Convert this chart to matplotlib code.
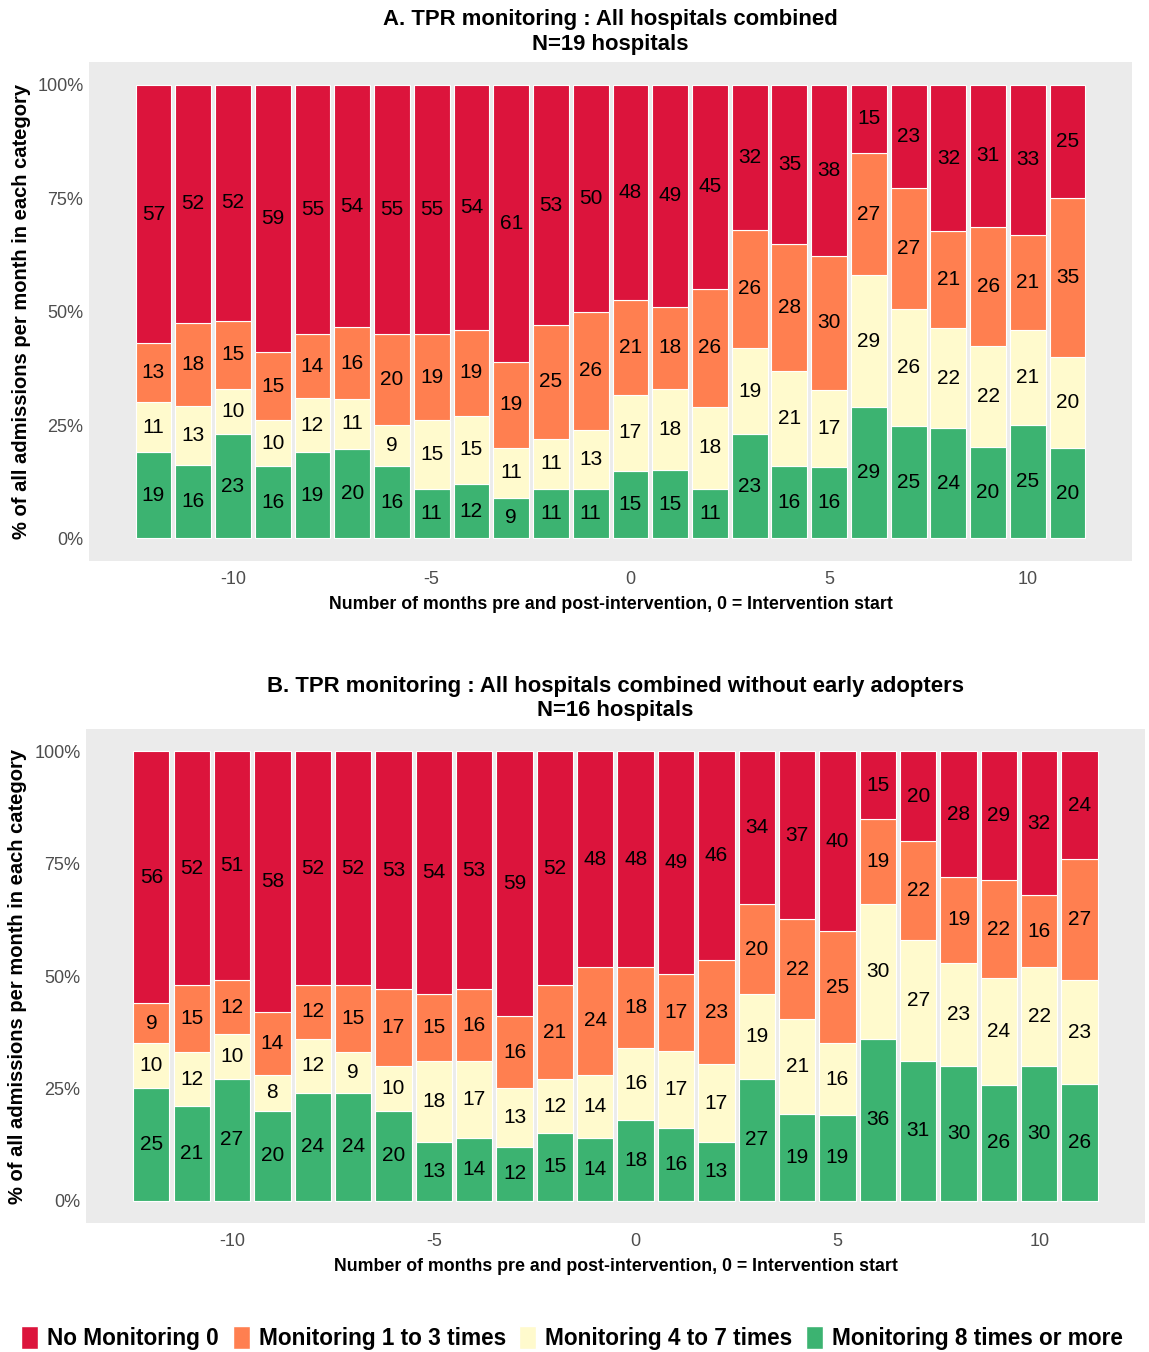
import numpy as np
import matplotlib.pyplot as plt
from matplotlib.patches import Patch

plt.rcParams["font.family"] = ["Liberation Sans", "DejaVu Sans"]
plt.rcParams["axes.unicode_minus"] = False

months = np.arange(-12, 12)

categories = [
    "Monitoring 8 times or more",
    "Monitoring 4 to 7 times",
    "Monitoring 1 to 3 times",
    "No Monitoring 0",
]
colors = ["#3CB371", "#FFFACD", "#FF7F50", "#DC143C"]

# Panel A: all hospitals (percent per month, bottom to top)
a_8plus = [19, 16, 23, 16, 19, 20, 16, 11, 12, 9, 11, 11, 15, 15, 11, 23, 16, 16, 29, 25, 24, 20, 25, 20]
a_4to7 = [11, 13, 10, 10, 12, 11, 9, 15, 15, 11, 11, 13, 17, 18, 18, 19, 21, 17, 29, 26, 22, 22, 21, 20]
a_1to3 = [13, 18, 15, 15, 14, 16, 20, 19, 19, 19, 25, 26, 21, 18, 26, 26, 28, 30, 27, 27, 21, 26, 21, 35]
a_none = [57, 52, 52, 59, 55, 54, 55, 55, 54, 61, 53, 50, 48, 49, 45, 32, 35, 38, 15, 23, 32, 31, 33, 25]

# Panel B: without early adopters
b_8plus = [25, 21, 27, 20, 24, 24, 20, 13, 14, 12, 15, 14, 18, 16, 13, 27, 19, 19, 36, 31, 30, 26, 30, 26]
b_4to7 = [10, 12, 10, 8, 12, 9, 10, 18, 17, 13, 12, 14, 16, 17, 17, 19, 21, 16, 30, 27, 23, 24, 22, 23]
b_1to3 = [9, 15, 12, 14, 12, 15, 17, 15, 16, 16, 21, 24, 18, 17, 23, 20, 22, 25, 19, 22, 19, 22, 16, 27]
b_none = [56, 52, 51, 58, 52, 52, 53, 54, 53, 59, 52, 48, 48, 49, 46, 34, 37, 40, 15, 20, 28, 29, 32, 24]

TEXT_GREY = "#4D4D4D"


def stacked_panel(ax, series, title):
    vals = np.array(series, dtype=float)
    frac = vals / vals.sum(axis=0)  # position = "fill"
    bottom = np.zeros(len(months))
    for k in range(len(series)):
        ax.bar(months, frac[k], bottom=bottom, width=0.9, color=colors[k],
               edgecolor="white", linewidth=0.8)
        for m, b, h, v in zip(months, bottom, frac[k], vals[k]):
            ax.text(m, b + h / 2, f"{int(v)}", ha="center", va="center",
                    fontsize=15, color="black")
        bottom += frac[k]

    ax.set_facecolor("#EBEBEB")
    for s in ax.spines.values():
        s.set_visible(False)
    ax.set_xlim(-13.62, 12.62)
    ax.set_ylim(-0.05, 1.05)
    ax.set_xticks([-10, -5, 0, 5, 10])
    ax.set_yticks([0, 0.25, 0.5, 0.75, 1.0])
    ax.set_yticklabels(["0%", "25%", "50%", "75%", "100%"])
    ax.tick_params(length=0, labelsize=13, labelcolor=TEXT_GREY)
    ax.tick_params(axis="x", pad=7)
    ax.tick_params(axis="y", pad=4)
    ax.set_xlabel("Number of months pre and post-intervention, 0 = Intervention start",
                  fontsize=12.8, fontweight="bold", labelpad=6)
    ax.set_ylabel("% of all admissions per month in each category",
                  fontsize=14.5, fontweight="bold")
    ax.yaxis.set_label_coords(-0.0556, 0.5)
    ax.set_title(title, fontsize=15.9, fontweight="bold", pad=9, linespacing=1.22)


fig = plt.figure(figsize=(11.49, 13.52), dpi=100)
ax_a = fig.add_axes([0.0775, 0.585, 0.9077, 0.369])
ax_b = fig.add_axes([0.0748, 0.0954, 0.9217, 0.3654])

stacked_panel(ax_a, [a_8plus, a_4to7, a_1to3, a_none],
              "A. TPR monitoring : All hospitals combined\nN=19 hospitals")
stacked_panel(ax_b, [b_8plus, b_4to7, b_1to3, b_none],
              "B. TPR monitoring : All hospitals combined without early adopters\nN=16 hospitals")

handles = [Patch(facecolor=c, edgecolor="white") for c in colors[::-1]]
fig.legend(handles, categories[::-1], loc="center", bbox_to_anchor=(0.498, 0.0104),
           ncol=4, frameon=False, prop={"size": 16.3, "weight": "bold"},
           handlelength=0.75, handleheight=1.2, handletextpad=0.4, columnspacing=0.6)

fig.savefig("out.png", dpi=100)
